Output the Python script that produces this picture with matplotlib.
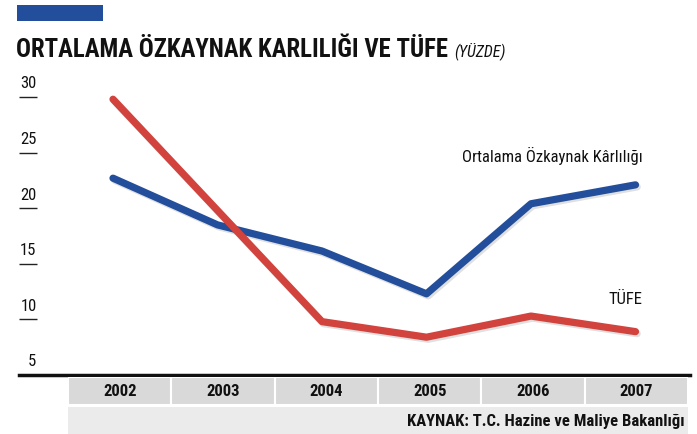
import matplotlib
matplotlib.use('Agg')
import matplotlib.pyplot as plt
import matplotlib.patheffects as pe
from matplotlib import font_manager
from matplotlib.transforms import blended_transform_factory

# data
years = ['2002', '2003', '2004', '2005', '2006', '2007']
ozkaynak = [22.7, 18.5, 16.15, 12.3, 20.4, 22.1]   # Ortalama Özkaynak Kârlılığı
tufe = [29.8, 19.8, 9.8, 8.4, 10.3, 8.9]           # TÜFE
yticks = [5, 10, 15, 20, 25, 30]

title = 'ORTALAMA ÖZKAYNAK KARLILIĞI VE TÜFE'
subtitle = '(YÜZDE)'
source = 'KAYNAK: T.C. Hazine ve Maliye Bakanlığı'

BLUE = '#234e9b'
RED = '#d2433d'

# pick a condensed family if there is one
names = {f.name for f in font_manager.fontManager.ttflist}
FONT = 'DejaVu Sans'
for cand in ['Roboto Condensed', 'Liberation Sans Narrow', 'Open Sans Condensed']:
    if cand in names:
        FONT = cand
        break
plt.rcParams['font.family'] = [FONT, 'DejaVu Sans']

W, H = 697, 435
fig = plt.figure(figsize=(W / 100, H / 100), dpi=100)

def fx(px):
    return px / W

def fy(py):
    return 1 - py / H

# blue block and title
fig.patches.append(plt.Rectangle((fx(17), fy(22)), fx(103) - fx(17), fy(6) - fy(22),
                                 transform=fig.transFigure, color=BLUE, lw=0))
t = fig.text(fx(16), fy(57), title, fontsize=17.8, fontweight='bold', color='#111111',
             va='baseline', ha='left')
fig.canvas.draw()
bb = t.get_window_extent()
fig.text((bb.x1 + 6) / W, fy(56), subtitle, fontsize=11.5, style='italic',
         color='#111111', va='baseline', ha='left')

# main chart axes: value 5 sits on y=376px, 11.12 px per unit
x0, step = 113, 104.5
left, right = 19, 690
ybot, ytop = 376, 70
ax = fig.add_axes([fx(left), fy(ybot), fx(right) - fx(left), fy(ytop) - fy(ybot)])
ax.set_xlim(-(x0 - left) / step, (right - x0) / step)
ax.set_ylim(5, 5 + (ybot - ytop) / 11.12)
for s in ['top', 'right', 'left']:
    ax.spines[s].set_visible(False)
ax.spines['bottom'].set_linewidth(2.5)
ax.spines['bottom'].set_color('#111111')
ax.set_xticks([])
ax.set_yticks(yticks)
ax.tick_params(axis='y', direction='in', length=13, width=1, color='#222222',
               labelleft=False)
ax.patch.set_alpha(0)

trans = blended_transform_factory(ax.transAxes, ax.transData)
for v in yticks:
    ax.text(17.5 / (right - left), v + 0.6, str(v), transform=trans, ha='right',
            va='bottom', fontsize=12, color='#111111')

xs = list(range(len(years)))
shadow = [pe.SimpleLineShadow(offset=(1.2, -1.5), alpha=0.12, shadow_color='k'), pe.Normal()]
ax.plot(xs, ozkaynak, color=BLUE, lw=5.2, solid_capstyle='round',
        solid_joinstyle='round', path_effects=shadow, zorder=3)
ax.plot(xs, tufe, color=RED, lw=5.2, solid_capstyle='round',
        solid_joinstyle='round', path_effects=shadow, zorder=4)

ax.text(5.07, 24.8, 'Ortalama Özkaynak Kârlılığı', ha='right', va='center',
        fontsize=12, color='#111111')
ax.text(5.07, 11.9, 'TÜFE', ha='right', va='center', fontsize=12, color='#111111')

# year table under the chart
tab = fig.add_axes([fx(68), 0, fx(688) - fx(68), fy(378)])
tab.set_xlim(0, len(years))
tab.set_ylim(0, fy(378) * H)
tab.axis('off')
tab.bar([i + 0.5 for i in xs], [28] * len(years), bottom=29, width=1,
        color='#d9d9d9', edgecolor='white', linewidth=1.5)
tab.bar([len(years) / 2], [27], bottom=0, width=len(years), color='#ebebeb', lw=0)
for i, yr in enumerate(years):
    tab.text(i + 0.5, 43, yr, ha='center', va='center', fontsize=12,
             fontweight='bold', color='#111111')
tab.text(len(years) - 0.03, 13.5, source, ha='right', va='center', fontsize=12,
         fontweight='bold', color='#111111')

fig.savefig('out.png', dpi=100)
